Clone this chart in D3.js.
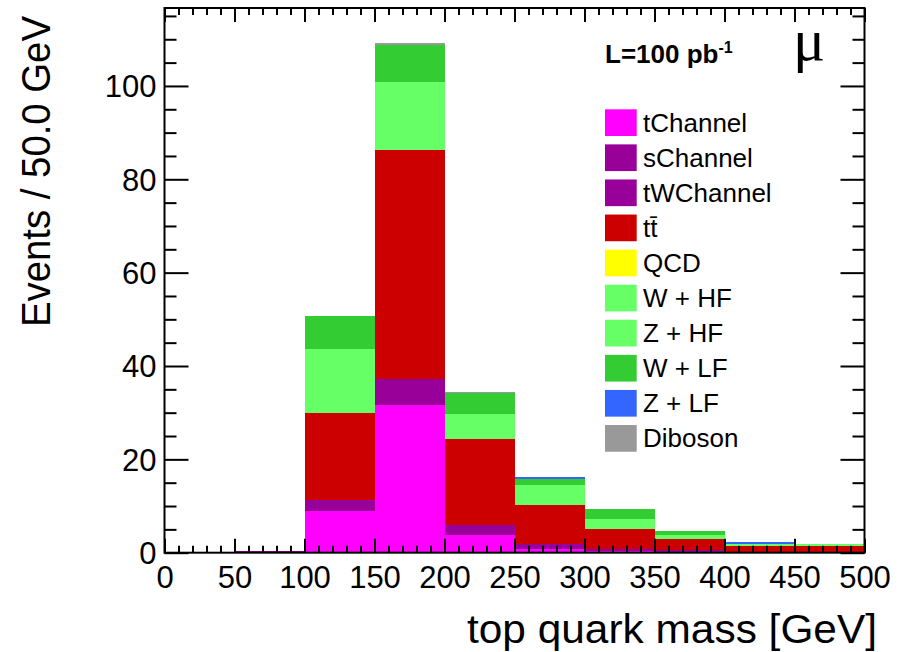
<!DOCTYPE html>
<html>
<head>
<meta charset="utf-8">
<script src="https://cdn.jsdelivr.net/npm/d3@7"></script>
<style>
  html, body { margin: 0; padding: 0; background: #fff; }
  svg { display: block; font-family: "Liberation Sans", Arial, Helvetica, sans-serif; }
</style>
</head>
<body>
<svg id="chart" width="905" height="652"></svg>
<script>
// Reconstructed top-quark mass, muon channel, stacked by process (events per 50 GeV bin)
const binLow = [0, 50, 100, 150, 200, 250, 300, 350, 400, 450];
const binWidth = 50;

const tChannel  = [0, 0.20,  8.9, 31.6,  3.8, 0.75, 0.45, 0.25, 0.10, 0.10];
const sChannel  = [0, 0.05,  0.9,  1.7,  0.5, 0.20, 0.05, 0.05, 0.02, 0.02];
const tWChannel = [0, 0.15, 1.46,  4.0,  1.6, 0.90, 0.25, 0.25, 0.10, 0.08];
const ttbar     = [0, 0,    18.7, 48.9, 18.5, 8.40, 4.30, 2.30, 1.21, 1.23];
const QCD       = [0, 0,    0,    0,    0,    0,    0,    0,    0,    0   ];
const WHF       = [0, 0,    12.5, 13.4,  4.8, 4.00, 1.90, 0.85, 0.30, 0.35];
const ZHF       = [0, 0,    1.2,  1.2,   0.5, 0.35, 0.20, 0.08, 0.07, 0.02];
const WLF       = [0, 0,    7.0,  7.9,   4.6, 1.15, 2.30, 0.80, 0,    0   ];
const ZLF       = [0, 0,    0,    0,     0,   0.56, 0,    0,    0.56, 0   ];
const Diboson   = [0, 0,    0.1,  0.5,   0.1, 0,    0,    0,    0,    0   ];

const processKeys   = ["tChannel", "sChannel", "tWChannel", "ttbar", "QCD", "WHF", "ZHF", "WLF", "ZLF", "Diboson"];
const processValues = [tChannel, sChannel, tWChannel, ttbar, QCD, WHF, ZHF, WLF, ZLF, Diboson];
const legendLabels  = ["tChannel", "sChannel", "tWChannel", "tt", "QCD", "W + HF", "Z + HF", "W + LF", "Z + LF", "Diboson"];
const processColors = ["#ff00ff", "#990099", "#990099", "#cc0000", "#ffff00", "#66ff66", "#66ff66", "#33cc33", "#3366ff", "#999999"];

const xMajorTicks = [0, 50, 100, 150, 200, 250, 300, 350, 400, 450, 500];
const yMajorTicks = [0, 20, 40, 60, 80, 100];

const xTitle = "top quark mass [GeV]";
const yTitle = "Events / 50.0 GeV";

// ---- layout ----
const frame = { left: 164.5, right: 864.5, top: 8, bottom: 552.7 };
const yMax = 116.7;

const svg = d3.select("#chart");

const x = d3.scaleLinear().domain([0, 500]).range([frame.left, frame.right]);
const y = d3.scaleLinear().domain([0, yMax]).range([frame.bottom, frame.top]);

// table of bins for the stack layout
const table = binLow.map((lo, i) => {
  const row = { lo };
  processKeys.forEach((k, j) => { row[k] = processValues[j][i]; });
  return row;
});
const layers = d3.stack().keys(processKeys)(table);

const bars = svg.append("g").attr("class", "bars").attr("shape-rendering", "crispEdges");
layers.forEach((layer, j) => {
  bars.append("g")
    .attr("fill", processColors[j])
    .selectAll("rect")
    .data(layer.filter(d => d[1] - d[0] > 0))
    .join("rect")
      .attr("x", d => x(d.data.lo))
      .attr("width", d => x(d.data.lo + binWidth) - x(d.data.lo))
      .attr("y", d => y(d[1]))
      .attr("height", d => y(d[0]) - y(d[1]));
});

// ---- axes (ticks point inward on all four sides) ----
const xMinor = d3.range(0, 501, 10).filter(v => v % 50 !== 0);
const yMinor = d3.range(0, yMax, 5).filter(v => v % 20 !== 0);

function styleAxis(g) {
  g.select(".domain").remove();
  g.selectAll(".tick line").attr("stroke", "#000").attr("stroke-width", 2);
}

const axes = svg.append("g").attr("class", "axes");

// bottom
axes.append("g").attr("transform", `translate(0,${frame.bottom})`)
  .call(d3.axisBottom(x).tickValues(xMajorTicks).tickSize(-14).tickPadding(0).tickFormat(d3.format("d")))
  .call(styleAxis)
  .call(g => g.selectAll("text").attr("y", 35).attr("dy", null)
      .attr("fill", "#000").attr("font-size", 31).attr("font-family", "Liberation Sans, Arial, sans-serif"));
axes.append("g").attr("transform", `translate(0,${frame.bottom})`)
  .call(d3.axisBottom(x).tickValues(xMinor).tickSize(-7).tickFormat(""))
  .call(styleAxis);

// top
axes.append("g").attr("transform", `translate(0,${frame.top})`)
  .call(d3.axisTop(x).tickValues(xMajorTicks).tickSize(-14).tickFormat(""))
  .call(styleAxis);
axes.append("g").attr("transform", `translate(0,${frame.top})`)
  .call(d3.axisTop(x).tickValues(xMinor).tickSize(-7).tickFormat(""))
  .call(styleAxis);

// left
axes.append("g").attr("transform", `translate(${frame.left},0)`)
  .call(d3.axisLeft(y).tickValues(yMajorTicks).tickSize(-24).tickPadding(0).tickFormat(d3.format("d")))
  .call(styleAxis)
  .call(g => g.selectAll("text").attr("x", -8).attr("dy", "0.35em")
      .attr("fill", "#000").attr("font-size", 31).attr("font-family", "Liberation Sans, Arial, sans-serif"));
axes.append("g").attr("transform", `translate(${frame.left},0)`)
  .call(d3.axisLeft(y).tickValues(yMinor).tickSize(-12).tickFormat(""))
  .call(styleAxis);

// right
axes.append("g").attr("transform", `translate(${frame.right},0)`)
  .call(d3.axisRight(y).tickValues(yMajorTicks).tickSize(-24).tickFormat(""))
  .call(styleAxis);
axes.append("g").attr("transform", `translate(${frame.right},0)`)
  .call(d3.axisRight(y).tickValues(yMinor).tickSize(-12).tickFormat(""))
  .call(styleAxis);

// frame box
axes.append("rect")
  .attr("x", frame.left).attr("y", frame.top)
  .attr("width", frame.right - frame.left).attr("height", frame.bottom - frame.top)
  .attr("fill", "none").attr("stroke", "#000").attr("stroke-width", 2);

// ---- titles ----
svg.append("text")
  .attr("x", 877).attr("y", 643)
  .attr("text-anchor", "end")
  .attr("font-size", 40)
  .attr("textLength", 410).attr("lengthAdjust", "spacingAndGlyphs")
  .text(xTitle);

svg.append("text")
  .attr("transform", "translate(50,327) rotate(-90)")
  .attr("x", 0).attr("y", 0)
  .attr("text-anchor", "start")
  .attr("font-size", 40)
  .attr("textLength", 311).attr("lengthAdjust", "spacingAndGlyphs")
  .text(yTitle);

// ---- luminosity and channel labels ----
const lumi = svg.append("text")
  .attr("x", 605).attr("y", 62.7)
  .attr("font-size", 26).attr("font-weight", "bold");
lumi.append("tspan").text("L=100 pb");
lumi.append("tspan").attr("font-size", 16).attr("dy", -10).text("-1");

svg.append("text")
  .attr("x", 793).attr("y", 60)
  .attr("font-family", "Liberation Serif, Times New Roman, serif")
  .attr("font-size", 60)
  .text("\u03bc");

// ---- legend ----
const legend = svg.append("g").attr("class", "legend");
const rowH = 35.08;
legendLabels.forEach((label, i) => {
  const top = 109.3 + i * rowH;
  legend.append("rect")
    .attr("x", 605).attr("y", top)
    .attr("width", 31.7).attr("height", 26.7)
    .attr("fill", processColors[i]);
  const t = legend.append("text")
    .attr("x", 643).attr("y", top + 22.4)
    .attr("font-size", 26);
  if (processKeys[i] === "ttbar") {
    t.append("tspan").text("t");
    t.append("tspan").text("t\u0304");
  } else {
    t.text(label);
  }
});
</script>
</body>
</html>
